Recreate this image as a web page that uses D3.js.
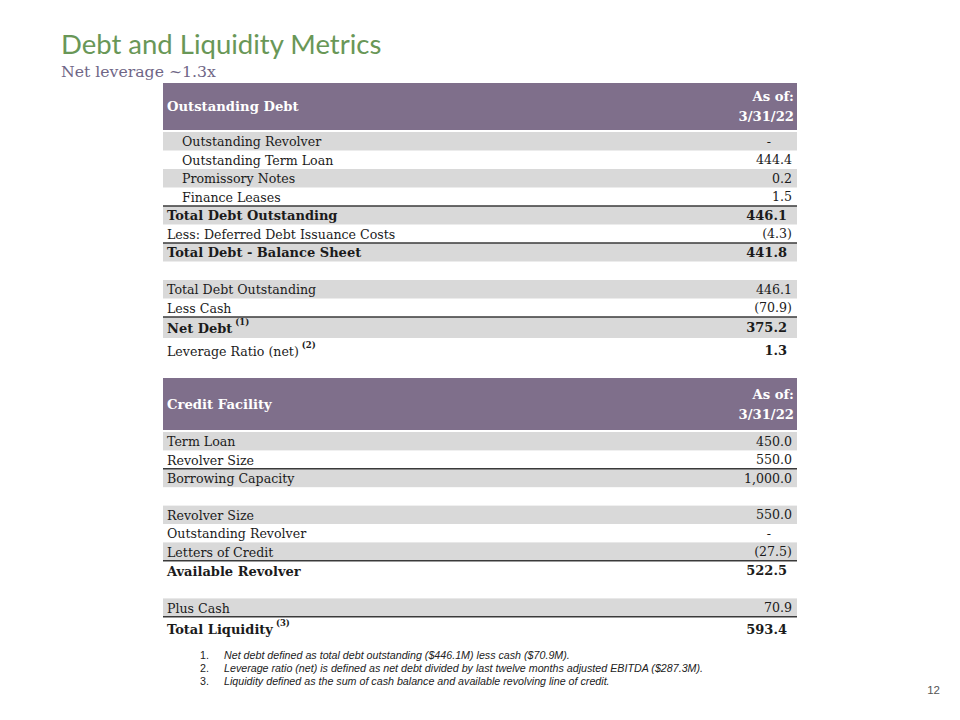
<!DOCTYPE html>
<html>
<head>
<meta charset="utf-8">
<script src="https://cdn.jsdelivr.net/npm/d3@7"></script>
<style>
body{margin:0;background:#fff;}
svg{display:block;}
</style>
</head>
<body>
<div id="chart"></div>
<script>
// table contents
var debtLabels=["Outstanding Revolver","Outstanding Term Loan","Promissory Notes","Finance Leases",
	"Total Debt Outstanding","Less: Deferred Debt Issuance Costs","Total Debt - Balance Sheet","",
	"Total Debt Outstanding","Less Cash","Net Debt","Leverage Ratio (net)"];
var debtValues=[null,444.4,0.2,1.5,446.1,-4.3,441.8,undefined,446.1,-70.9,375.2,1.3];
var debtNotes=["","","","","","","","","","","(1)","(2)"];

var creditLabels=["Term Loan","Revolver Size","Borrowing Capacity","","Revolver Size","Outstanding Revolver",
	"Letters of Credit","Available Revolver","","Plus Cash","Total Liquidity"];
var creditValues=[450.0,550.0,1000.0,undefined,550.0,null,-27.5,522.5,undefined,70.9,593.4];
var creditNotes=["","","","","","","","","","","(3)"];

var headerDate=["As of:","3/31/22"];
var footnotes=["Net debt defined as total debt outstanding ($446.1M) less cash ($70.9M).",
	"Leverage ratio (net) is defined as net debt divided by last twelve months adjusted EBITDA ($287.3M).",
	"Liquidity defined as the sum of cash balance and available revolving line of credit."];

// row styling (kept apart from the data)
var debtStyle={
	heights:[18.5,18.5,18.5,18.5,18.5,18.5,18.5,18.5,18.5,18.5,21,25],
	shade:[1,0,1,0,1,0,1,0,1,0,1,0],
	bold:[0,0,0,0,1,0,1,0,0,0,1,0],
	boldValue:[0,0,0,0,1,0,1,0,0,0,1,1],
	indent:[1,1,1,1,0,0,0,0,0,0,0,0],
	rule:[0,0,0,0,1,0,1,0,0,0,1,0]
};
var creditStyle={
	heights:[18.4,18.4,18.4,18.4,18.4,18.4,18.4,20,17.6,18.4,25],
	shade:[1,0,1,0,1,0,1,0,0,1,0],
	bold:[0,0,0,0,0,0,0,1,0,0,1],
	boldValue:[0,0,0,0,0,0,0,1,0,0,1],
	indent:[0,0,0,0,0,0,0,0,0,0,0],
	rule:[0,0,1,0,0,0,0,1,0,0,1]
};

var serif="'DejaVu Serif', Georgia, serif";
var purple='#7f6f8b', gray='#d9d9d9', ink='#1b1b1b';
var left=163, right=797;

var svg=d3.select("#chart").append("svg").attr("width",960).attr("height",720);

svg.append("text").attr("x",61).attr("y",54)
	.attr("font-family","Lato, 'Open Sans', sans-serif").attr("font-size",27.5)
	.attr("fill","#699757").text("Debt and Liquidity Metrics");
svg.append("text").attr("x",61).attr("y",77)
	.attr("font-family",serif).attr("font-size",15.7)
	.attr("fill","#6f6686").text("Net leverage ~1.3x");

var fmt=d3.format(",.1f");
function valueText(v){
	if(v===undefined) return "";
	if(v===null) return "-";
	return v<0 ? "("+fmt(-v)+")" : fmt(v);
}

function drawTable(top,headerH,title,labels,values,notes,st){
	var g=svg.append("g");
	var x=d3.scaleLinear().domain([0,1]).range([left,right]);
	g.append("rect").attr("x",x(0)).attr("y",top)
		.attr("width",x(1)-x(0)).attr("height",headerH).attr("fill",purple);
	g.append("text").attr("x",x(0)+4).attr("y",top+headerH/2)
		.attr("dominant-baseline","central")
		.attr("font-family",serif).attr("font-weight","bold").attr("font-size",13.2)
		.attr("fill","#fff").text(title);
	g.selectAll("text.date").data(headerDate).enter().append("text")
		.attr("class","date")
		.attr("x",x(1)-3)
		.attr("y",function(d,i){return top+headerH/2+(i-0.5)*20;})
		.attr("dominant-baseline","central").attr("text-anchor","end")
		.attr("font-family",serif).attr("font-weight","bold").attr("font-size",13.2)
		.attr("fill","#fff").text(function(d){return d;});

	var start=top+headerH+2;
	var offs=[0].concat(Array.from(d3.cumsum(st.heights)));
	var rows=labels.map(function(l,i){
		return {label:l,value:values[i],note:notes[i],i:i,
			y:start+offs[i],h:st.heights[i]};
	});
	var row=g.selectAll("g.row").data(rows).enter().append("g").attr("class","row");
	row.filter(function(d){return st.shade[d.i];}).append("rect")
		.attr("x",x(0)).attr("y",function(d){return d.y;})
		.attr("width",x(1)-x(0)).attr("height",function(d){return d.h;})
		.attr("fill",gray);
	var lab=row.append("text")
		.attr("x",function(d){return x(0)+(st.indent[d.i]?19:4);})
		.attr("y",function(d){return d.y+d.h/2;})
		.attr("dominant-baseline","central")
		.attr("font-family",serif).attr("font-size",function(d){return st.bold[d.i]?13:12.6;})
		.attr("font-weight",function(d){return st.bold[d.i]?"bold":"normal";})
		.attr("fill",ink);
	lab.append("tspan").text(function(d){return d.label;});
	lab.filter(function(d){return d.note;}).append("tspan")
		.attr("dx",3).attr("dy",-6).attr("font-size",8.5).attr("font-weight","bold")
		.text(function(d){return d.note;});
	row.append("text")
		.attr("x",function(d){
			if(d.value===null) return x(1)-28;
			return st.boldValue[d.i] ? x(1)-10 : x(1)-5;
		})
		.attr("y",function(d){return d.y+d.h/2;})
		.attr("dominant-baseline","central")
		.attr("text-anchor",function(d){return d.value===null?"middle":"end";})
		.attr("font-family",serif).attr("font-size",function(d){return st.boldValue[d.i]?13:12.6;})
		.attr("font-weight",function(d){return st.boldValue[d.i]?"bold":"normal";})
		.attr("fill",ink).text(function(d){return valueText(d.value);});
	row.filter(function(d){return st.rule[d.i];}).append("line")
		.attr("x1",x(0)).attr("x2",x(1))
		.attr("y1",function(d){return d.y;}).attr("y2",function(d){return d.y;})
		.attr("stroke","#3a3a3a").attr("stroke-width",1.5);
}

drawTable(83,47,"Outstanding Debt",debtLabels,debtValues,debtNotes,debtStyle);
drawTable(378,52,"Credit Facility",creditLabels,creditValues,creditNotes,creditStyle);

var fn=svg.append("g").attr("font-family","'Liberation Sans', Arial, sans-serif")
	.attr("font-size",10.7).attr("font-style","italic").attr("fill","#222");
fn.selectAll("text.num").data(footnotes).enter().append("text")
	.attr("x",200).attr("y",function(d,i){return 659+i*13;})
	.attr("font-style","normal").text(function(d,i){return (i+1)+".";});
fn.selectAll("text.note").data(footnotes).enter().append("text")
	.attr("x",224).attr("y",function(d,i){return 659+i*13;})
	.text(function(d){return d;});

svg.append("text").attr("x",940).attr("y",694).attr("text-anchor","end")
	.attr("font-family","'Liberation Sans', Arial, sans-serif").attr("font-size",11.5)
	.attr("fill","#555").text("12");
</script>
</body>
</html>
